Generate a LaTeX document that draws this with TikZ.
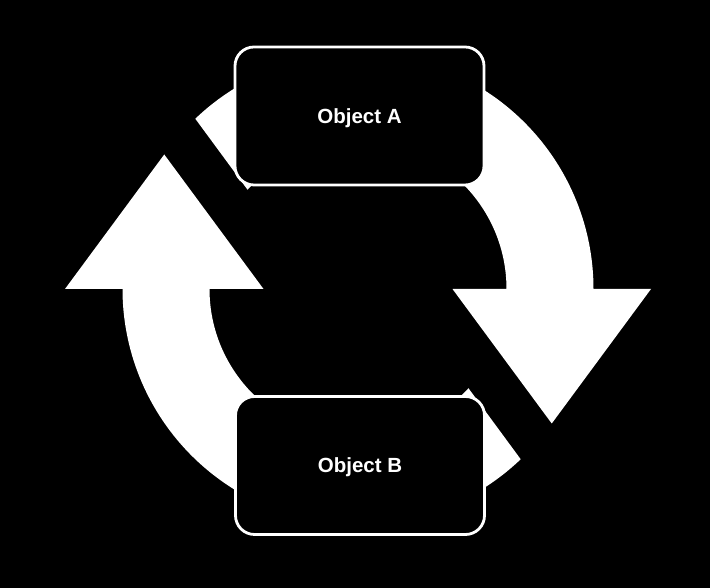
\documentclass[tikz,border=0pt]{standalone}
\usepackage{fontspec}
\setmainfont{Liberation Sans}
\begin{document}
\begin{tikzpicture}[x=1pt,y=1pt,
  obj/.style={draw=white, fill=black, line width=2.8pt, rounded corners=19pt,
    minimum width=249pt, minimum height=138pt, text=white, text depth=0pt,
    font=\fontsize{20.5}{24}\selectfont\bfseries},
  cyclearrow/.style={fill=white}]
\fill[black] (0,0) rectangle (710,588);
\useasboundingbox (0,0) rectangle (710,588);
\begin{scope}[shift={(358,299)}]
  \foreach \r in {0,180}{
    \fill[cyclearrow, rotate=\r]
      (133.7:235.5) arc[start angle=133.7, end angle=0, radius=235.5]
      -- (293,0) -- (193.75,-134.5) -- (94.5,0) -- (148.5,0)
      arc[start angle=0, end angle=138.06, radius=148.5] -- cycle;
  }
\end{scope}
\node[obj] (A) at (359.5,472) {Object A};
\node[obj] (B) at (360,122.5) {Object B};
\end{tikzpicture}
\end{document}
